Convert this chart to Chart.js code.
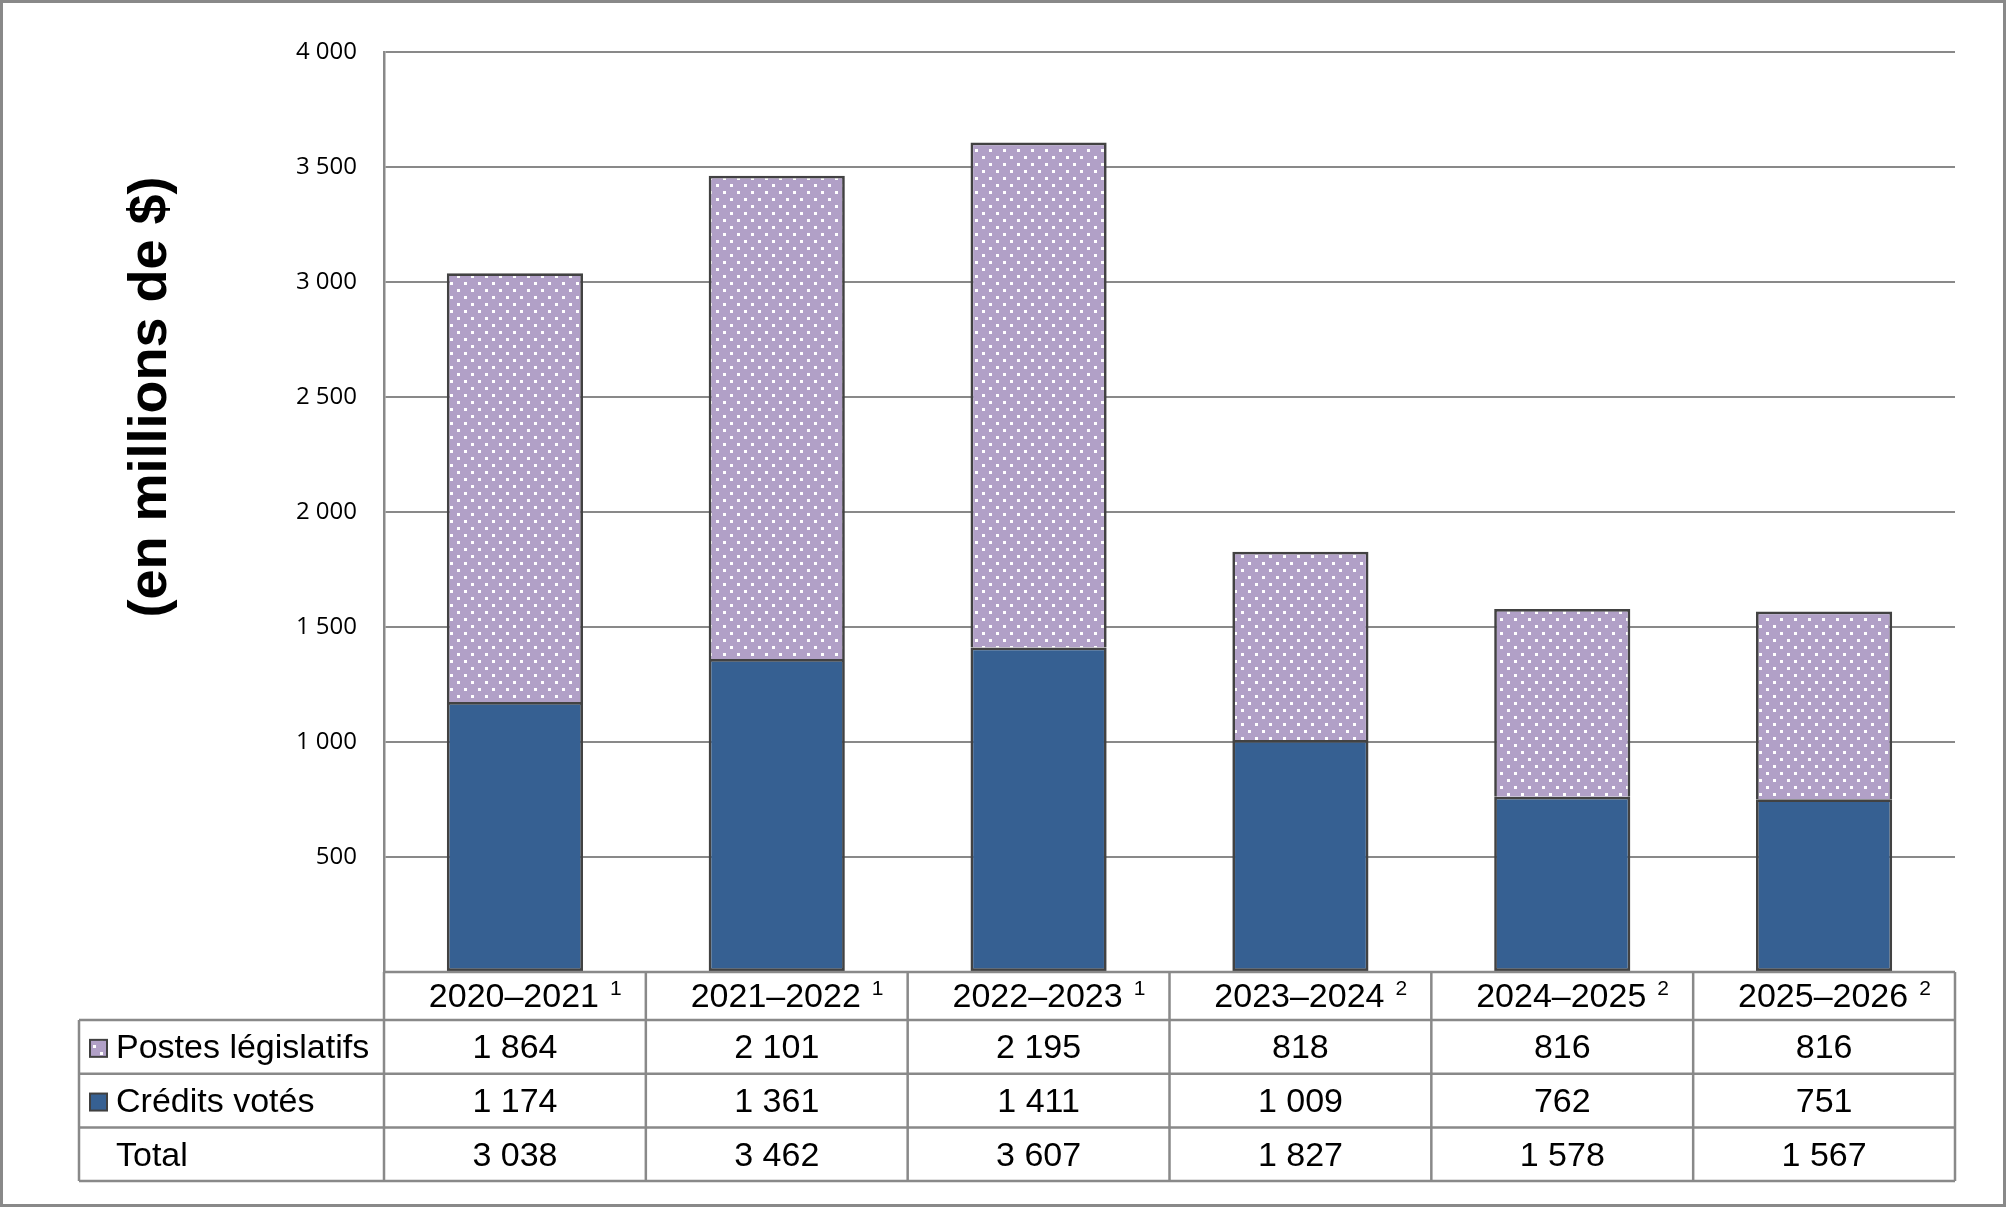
<!DOCTYPE html>
<html>
<head>
<meta charset="utf-8">
<script src="https://cdn.jsdelivr.net/npm/chart.js@4.4.1/dist/chart.umd.min.js"></script>
<style>
html,body{margin:0;padding:0;background:#fff}
canvas{display:block}
</style>
</head>
<body>
<canvas id="main-chart" width="2007" height="1207"></canvas>
<script>
/* Stacked bars with data table underneath (Excel style) */

var categories=['2020–2021','2021–2022','2022–2023','2023–2024','2024–2025','2025–2026'];
var footnotes=['1','1','1','2','2','2'];
var postesLegislatifs=[1864,2101,2195,818,816,816];
var creditsVotes=[1174,1361,1411,1009,762,751];
var totals=[3038,3462,3607,1827,1578,1567];
var yTicks=[0,500,1000,1500,2000,2500,3000,3500,4000];

var BLUE='#366092';
var LAVENDER='#b1a0c7';
var GRID='#898989';
var BAR_EDGE='#424242';
var TABLE_FONT='"Liberation Sans", Arial, sans-serif';

function fmt(v){return String(v).replace(/\B(?=(\d{3})+(?!\d))/g,' ')}

// dotted fill like the Excel pattern
function makeDots(){
  var c=document.createElement('canvas');
  c.width=14;c.height=14;
  var g=c.getContext('2d');
  g.fillStyle=LAVENDER;g.fillRect(0,0,14,14);
  g.fillStyle='#ffffff';
  g.fillRect(2,2,3,3);
  g.fillRect(9,9,3,3);
  return g.createPattern(c,'repeat');
}
var dots=makeDots();

var tablePlugin={
  id:'tablePlugin',
  afterDraw:function(chart){
    var ctx=chart.ctx;
    var x=chart.scales.x, area=chart.chartArea;
    var colW=(area.right-area.left)/categories.length;
    var top=area.bottom, headB=top+48, rowH=53.7;
    var leftX=79;
    var rows=[
      {label:'Postes législatifs',vals:postesLegislatifs,fill:dots},
      {label:'Crédits votés',vals:creditsVotes,fill:BLUE},
      {label:'Total',vals:totals,fill:null}
    ];
    var bottom=headB+rowH*rows.length;

    ctx.save();
    // grid of the table
    ctx.strokeStyle=GRID;ctx.lineWidth=2.5;
    ctx.beginPath();
    ctx.moveTo(area.left,top);ctx.lineTo(area.right,top);
    for(var r=0;r<=rows.length;r++){
      ctx.moveTo(leftX,headB+r*rowH);ctx.lineTo(area.right,headB+r*rowH);
    }
    ctx.moveTo(leftX,headB);ctx.lineTo(leftX,bottom);
    for(var i=0;i<=categories.length;i++){
      var vx=area.left+i*colW;
      ctx.moveTo(vx,top);ctx.lineTo(vx,bottom);
    }
    ctx.stroke();

    ctx.fillStyle='#000';
    ctx.textBaseline='middle';
    // header: year centred, footnote trailing
    categories.forEach(function(c,i){
      var cx=x.getPixelForValue(i);
      ctx.font='34px '+TABLE_FONT;
      var w1=ctx.measureText(c).width;
      var sx=cx-w1/2-1;
      ctx.textAlign='left';
      ctx.fillText(c,sx,top+26);
      ctx.font='21px '+TABLE_FONT;
      ctx.fillText(footnotes[i],sx+w1+11,top+17);
    });
    // rows
    rows.forEach(function(row,r){
      var cy=headB+r*rowH+rowH/2+2;
      if(row.fill){
        ctx.fillStyle=row.fill;
        ctx.fillRect(90,cy-9,17,17);
        ctx.strokeStyle='#404040';ctx.lineWidth=2;
        ctx.strokeRect(90,cy-9,17,17);
      }
      ctx.fillStyle='#000';
      ctx.font='34px '+TABLE_FONT;
      ctx.textAlign='left';
      ctx.fillText(row.label,116,cy);
      ctx.textAlign='center';
      row.vals.forEach(function(v,i){
        ctx.fillText(fmt(v),x.getPixelForValue(i),cy);
      });
    });

    // y axis title
    ctx.save();
    ctx.translate(151,397);
    ctx.rotate(-Math.PI/2);
    ctx.font='bold 54px '+TABLE_FONT;
    ctx.textAlign='center';
    ctx.fillText('(en millions de $)',0,0);
    ctx.restore();

    // outer frame
    ctx.strokeStyle=GRID;ctx.lineWidth=3;
    ctx.strokeRect(1.5,1.5,chart.width-4,chart.height-3);
    ctx.restore();
  }
};

var ctx=document.getElementById('main-chart').getContext('2d');
var mainChart=new Chart(ctx,{
  type:'bar',
  data:{
    labels:categories,
    datasets:[
      {label:'Crédits votés',data:creditsVotes,backgroundColor:BLUE,borderColor:BAR_EDGE,borderWidth:2.7,borderSkipped:false,barPercentage:0.52,categoryPercentage:1},
      {label:'Postes législatifs',data:postesLegislatifs,backgroundColor:dots,borderColor:BAR_EDGE,borderWidth:{top:2.7,left:2.7,right:2.7,bottom:0},borderSkipped:false,barPercentage:0.52,categoryPercentage:1}
    ]
  },
  options:{
    responsive:false,
    animation:false,
    devicePixelRatio:1,
    layout:{padding:{left:0,right:52,top:52,bottom:235}},
    plugins:{legend:{display:false},tooltip:{enabled:false}},
    scales:{
      x:{stacked:true,display:false},
      y:{
        stacked:true,min:0,max:4000,
        afterFit:function(s){s.width=384},
        afterBuildTicks:function(s){s.ticks=yTicks.map(function(v){return{value:v}})},
        ticks:{
          color:'#000',padding:27,
          font:{family:'"Open Sans", sans-serif',size:24},
          callback:function(v){return v===0?'':fmt(v)}
        },
        grid:{color:GRID,lineWidth:2,drawTicks:false},
        border:{display:true,color:GRID,width:2.5}
      }
    }
  },
  plugins:[tablePlugin]
});
</script>
</body>
</html>
